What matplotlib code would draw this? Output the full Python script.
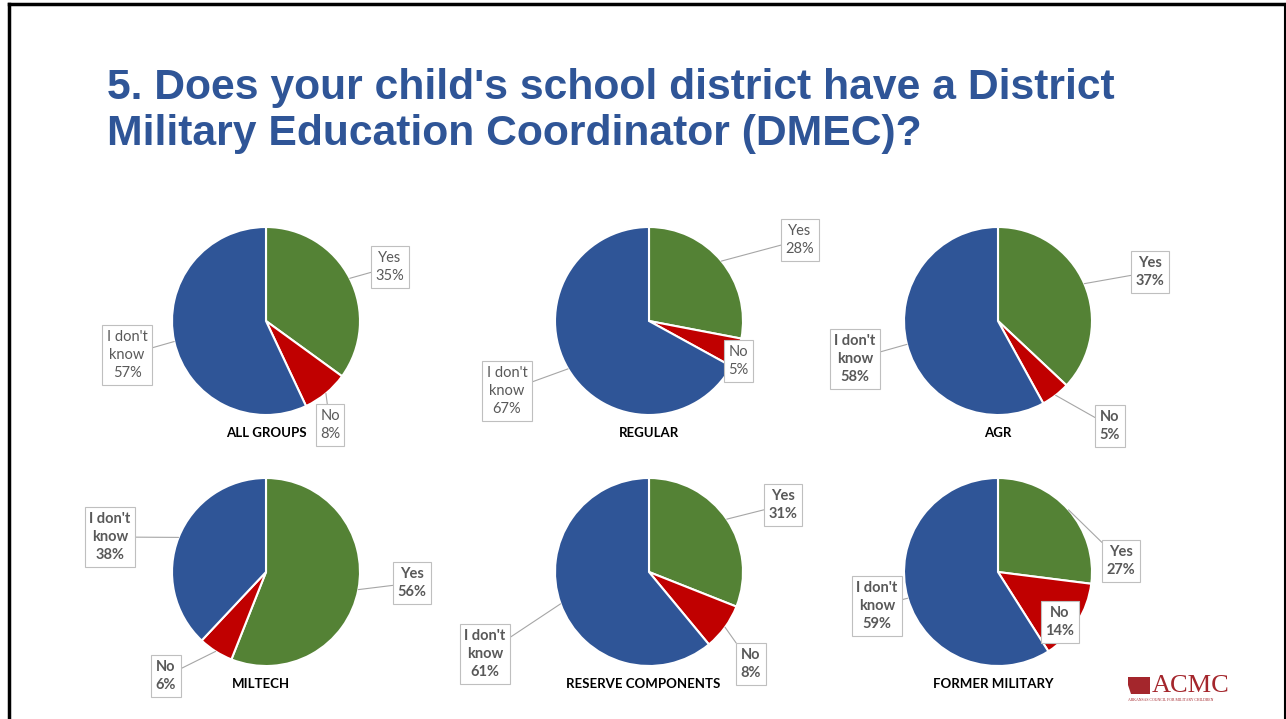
import matplotlib
matplotlib.use("Agg")
import matplotlib.pyplot as plt
import numpy as np
from matplotlib.lines import Line2D
from matplotlib.patches import Polygon

W, H = 1286, 719

# --- data ---
groups = ["ALL GROUPS", "REGULAR", "AGR", "MILTECH", "RESERVE COMPONENTS", "FORMER MILITARY"]
answers = ["Yes", "No", "I don't\nknow"]
yes_pct = [35, 28, 37, 56, 31, 27]
no_pct = [8, 5, 5, 6, 8, 14]
idk_pct = [57, 67, 58, 38, 61, 59]
bold_labels = [False, False, True, True, True, True]

title = "5. Does your child's school district have a District\nMilitary Education Coordinator (DMEC)?"

colors = ["#548235", "#C00000", "#2F5597"]

# --- layout (pixels, image coordinates) ---
centers = [(266, 321), (649, 321), (998, 321), (266, 572), (649, 572), (998, 572)]
radius = 94
label_pos = [
    [(390, 267), (330, 425), (127, 355)],
    [(800, 240), (738, 361), (507, 391)],
    [(1150, 272), (1110, 426), (855, 359)],
    [(412, 583), (166, 676), (110, 537)],
    [(783, 505), (751, 664), (485, 654)],
    [(1121, 561), (1060, 622), (877, 606)],
]
show_leader = [
    [True, True, True],
    [True, False, True],
    [True, True, True],
    [True, True, True],
    [True, True, True],
    [True, False, True],
]
name_y = [433, 433, 433, 684, 684, 684]
name_dx = [0, 0, 0, -5, -6, -5]

fig = plt.figure(figsize=(W / 100, H / 100), dpi=100)
ax = fig.add_axes([0, 0, 1, 1])

for i, grp in enumerate(groups):
    vals = [yes_pct[i], no_pct[i], idk_pct[i]]
    cx, cy = centers[i]
    wedges, _ = ax.pie(vals, colors=colors, startangle=90, counterclock=False,
                       center=(cx, H - cy), radius=radius, frame=True,
                       wedgeprops=dict(edgecolor="white", linewidth=1.5))
    weight = "bold" if bold_labels[i] else "normal"
    for j, w in enumerate(wedges):
        mid = np.deg2rad((w.theta1 + w.theta2) / 2)
        anchor = (cx + radius * np.cos(mid), H - cy + radius * np.sin(mid))
        lx, ly = label_pos[i][j]
        txt = f"{answers[j]}\n{vals[j]}%"
        arrow = None
        if show_leader[i][j]:
            arrow = dict(arrowstyle="-", color="#A6A6A6", lw=0.8, shrinkA=0, shrinkB=0)
        ax.annotate(txt, xy=anchor, xytext=(lx, H - ly), textcoords="data",
                    ha="center", va="center", fontsize=10.5, family="Lato",
                    fontweight=weight, color="#595959", linespacing=1.4,
                    bbox=dict(boxstyle="square,pad=0.3", fc="white", ec="#BFBFBF", lw=0.8),
                    arrowprops=arrow, zorder=5)
    ax.text(cx + name_dx[i], H - name_y[i], grp, ha="center", va="center",
            fontsize=9.5, family="Lato", fontweight="bold", color="black")

ax.set_xlim(0, W)
ax.set_ylim(0, H)
ax.set_aspect("auto")
ax.axis("off")

# title
fig.text(107 / W, 1 - 68 / H, title, ha="left", va="top", fontsize=30.7,
         family="Liberation Sans", fontweight="bold", color="#2F5597", linespacing=1.2)

# slide border
fig.add_artist(Line2D([9 / W, 9 / W], [0, 1 - 4 / H], color="black", lw=2.5))
fig.add_artist(Line2D([9 / W, 1285 / W], [1 - 4 / H, 1 - 4 / H], color="black", lw=2.5))
fig.add_artist(Line2D([1285 / W, 1285 / W], [0, 1 - 4 / H], color="black", lw=1.5))

# logo
icon = Polygon([(1128 / W, 1 - 677 / H), (1150 / W, 1 - 677 / H), (1150 / W, 1 - 694 / H),
                (1131 / W, 1 - 694 / H), (1128 / W, 1 - 685 / H)],
               closed=True, fc="#A4262C", ec="none", transform=fig.transFigure)
fig.add_artist(icon)
fig.text(1152 / W, 1 - 686 / H, "ACMC", ha="left", va="center", fontsize=19,
         family="Liberation Serif", color="#A4262C")
fig.text(1128 / W, 1 - 700 / H, "ARKANSAS COUNCIL FOR MILITARY CHILDREN", ha="left",
         va="center", fontsize=2.8, family="Liberation Serif", color="#A4262C")

fig.savefig("out.png", dpi=100)
